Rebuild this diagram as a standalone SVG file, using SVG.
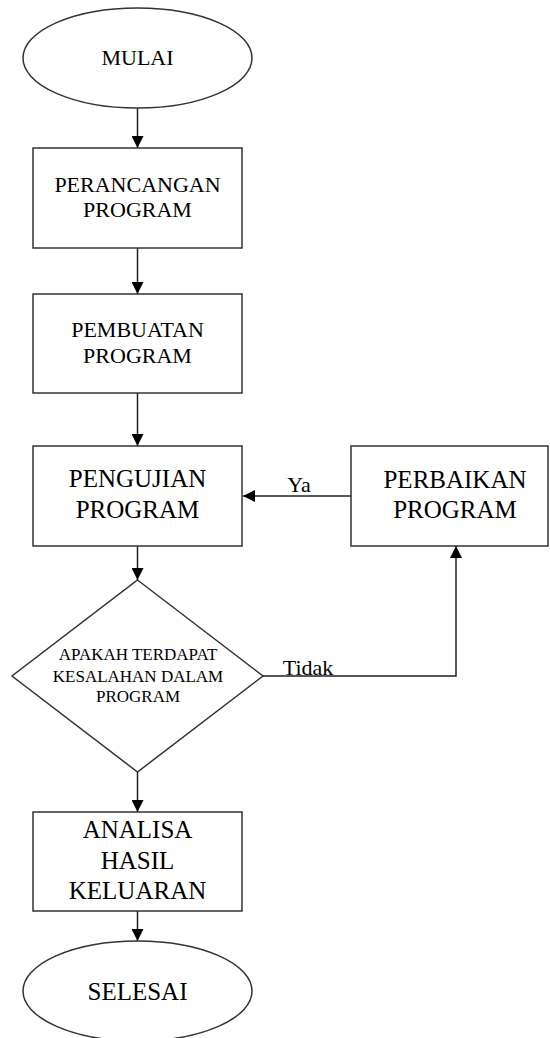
<svg xmlns="http://www.w3.org/2000/svg" width="550" height="1038" viewBox="0 0 550 1038">
<style>
.s{fill:#fff;stroke:#333;stroke-width:1.5}
.t{font-family:"Liberation Serif","Times New Roman",serif;fill:#000;text-anchor:middle}
.c{fill:none;stroke:#222;stroke-width:1.5}
</style>
<defs>
<marker id="ah" viewBox="0 0 12 12" refX="12" refY="6" markerWidth="12" markerHeight="12" markerUnits="userSpaceOnUse" orient="auto">
<path d="M0,0 L12,6 L0,12 Z" fill="#000"/>
</marker>
</defs>
<rect width="550" height="1038" fill="#fff"/>
<g id="connectors">
<line class="c" x1="137.5" y1="108" x2="137.5" y2="148" marker-end="url(#ah)"/>
<line class="c" x1="137.5" y1="248" x2="137.5" y2="294" marker-end="url(#ah)"/>
<line class="c" x1="137.5" y1="393" x2="137.5" y2="446" marker-end="url(#ah)"/>
<line class="c" x1="137.5" y1="546" x2="137.5" y2="580" marker-end="url(#ah)"/>
<line class="c" x1="137.5" y1="772" x2="137.5" y2="812" marker-end="url(#ah)"/>
<line class="c" x1="137.5" y1="911" x2="137.5" y2="941" marker-end="url(#ah)"/>
<line class="c" x1="351" y1="496" x2="243" y2="496" marker-end="url(#ah)"/>
<polyline class="c" points="263,676 456,676 456,546" marker-end="url(#ah)"/>
<text class="t" x="299" y="492" font-size="22">Ya</text>
<text class="t" x="308" y="675" font-size="22">Tidak</text>
</g>
<g id="mulai">
<ellipse class="s" cx="137.5" cy="58" rx="114.5" ry="50"/>
<text class="t" x="137.5" y="65" font-size="22">MULAI</text>
</g>
<g id="perancangan">
<rect class="s" x="33" y="148" width="209" height="100"/>
<text class="t" x="137.5" y="192" font-size="22">PERANCANGAN</text>
<text class="t" x="137.5" y="217" font-size="22">PROGRAM</text>
</g>
<g id="pembuatan">
<rect class="s" x="33" y="294" width="209" height="99"/>
<text class="t" x="137.5" y="337" font-size="22">PEMBUATAN</text>
<text class="t" x="137.5" y="363" font-size="22">PROGRAM</text>
</g>
<g id="pengujian">
<rect class="s" x="33" y="446" width="209" height="100"/>
<text class="t" x="137.5" y="487" font-size="25">PENGUJIAN</text>
<text class="t" x="137.5" y="518" font-size="25">PROGRAM</text>
</g>
<g id="perbaikan">
<rect class="s" x="351" y="446" width="197" height="100"/>
<text class="t" x="455" y="488" font-size="25">PERBAIKAN</text>
<text class="t" x="455" y="518" font-size="25">PROGRAM</text>
</g>
<g id="keputusan">
<polygon class="s" points="137.5,580 263,676 137.5,772 12,676"/>
<text class="t" x="138" y="660" font-size="17">APAKAH TERDAPAT</text>
<text class="t" x="138" y="682" font-size="17">KESALAHAN DALAM</text>
<text class="t" x="138" y="702" font-size="17">PROGRAM</text>
</g>
<g id="analisa">
<rect class="s" x="33" y="812" width="209" height="99"/>
<text class="t" x="137.5" y="838" font-size="25">ANALISA</text>
<text class="t" x="137.5" y="869" font-size="25">HASIL</text>
<text class="t" x="137.5" y="899" font-size="25">KELUARAN</text>
</g>
<g id="selesai">
<ellipse class="s" cx="137.5" cy="991" rx="114.5" ry="50"/>
<text class="t" x="137.5" y="1000" font-size="25">SELESAI</text>
</g>
</svg>
